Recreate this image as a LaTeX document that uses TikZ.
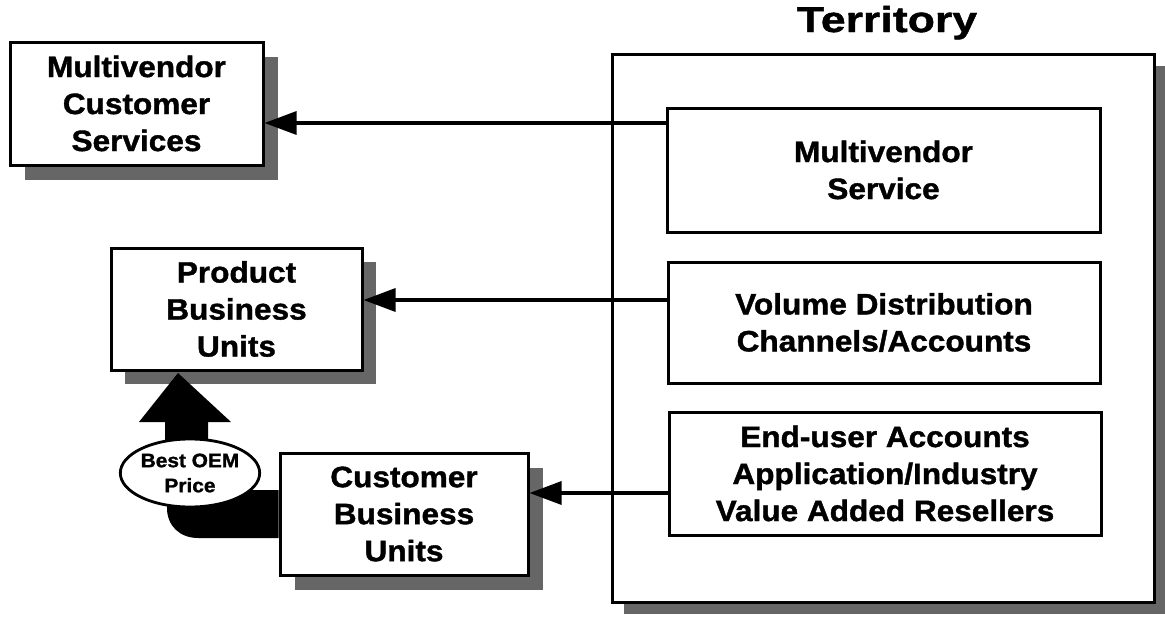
\documentclass[tikz,border=0pt]{standalone}
\usepackage{fontspec}
\setmainfont{Liberation Sans}[FakeStretch=1.07, FakeBold=1.3]
\newfontfamily\titlefont{Liberation Sans}[FakeStretch=1.24, FakeBold=1.3]
\usetikzlibrary{arrows.meta,shadows,shapes.geometric}

\tikzset{
  box/.style={draw, line width=3pt, fill=white, inner sep=0pt, align=center,
    font=\fontsize{29.5}{37}\selectfont\bfseries},
  shadowed/.style={drop shadow={shadow xshift=#1, shadow yshift=-#1,
    fill=black!60, opacity=1}},
  conn/.style={line width=3.2pt, -{Triangle[length=32pt,width=23pt]}},
  bigarrow/.style={fill=black},
  tag/.style={ellipse, draw, line width=2.8pt, fill=white, inner sep=0pt,
    align=center, font=\fontsize{19.5}{25}\selectfont\bfseries},
}

\begin{document}
\begin{tikzpicture}[x=1pt, y=-1pt]
\useasboundingbox (0,0) rectangle (1165,616);

% territory frame with its title
\node[box, shadowed=12pt, minimum width=542pt, minimum height=548pt] (terr) at (883,328) {};
\node[font=\titlefont\fontsize{36}{40}\selectfont\bfseries, anchor=base] (title) at (887,32) {Territory};

% channels inside the territory
\node[box, minimum width=433pt, minimum height=124pt] (mvs) at (883.5,170) {Multivendor\\Service};
\node[box, minimum width=432pt, minimum height=121pt] (vol) at (884,322.5) {Volume Distribution\\Channels/Accounts};
\node[box, minimum width=432pt, minimum height=123pt] (end) at (885,473.5) {End-user Accounts\\Application/Industry\\Value Added Resellers};

% organisations on the left
\node[box, shadowed=15pt, minimum width=253pt, minimum height=123pt] (mcs) at (136.5,103.5) {Multivendor\\Customer\\Services};
\node[box, shadowed=14pt, minimum width=251pt, minimum height=122pt] (pbu) at (236.5,309) {Product\\Business\\Units};
\node[box, shadowed=15pt, minimum width=248pt, minimum height=122pt] (cbu) at (404,514) {Customer\\Business\\Units};

% connectors from the channels
\path ([yshift=47pt]mvs.west) coordinate (s1);
\path ([yshift=22.5pt]vol.west) coordinate (s2);
\path ([yshift=-19.5pt]end.west) coordinate (s3);
\draw[conn] (s1) -- (s1 -| mcs.east);
\draw[conn] (s2) -- (s2 -| pbu.east);
\draw[conn] (s3) -- (s3 -| cbu.east);

% thick arrow from customer to product business units
\fill[bigarrow] (178,373) -- (231,422) -- (208,422) -- (208,460) -- (165,460) -- (165,422) -- (139,422) -- cycle;
\fill[bigarrow] (cbu.west |- 0,490) -- (167,490) -- (167,508)
  .. controls (167,526) and (180,538) .. (198,538) -- (cbu.west |- 0,538) -- cycle;
\node[tag, minimum width=128pt, minimum height=68pt] (oem) at (190,473) {Best OEM\\Price};
\end{tikzpicture}
\end{document}
